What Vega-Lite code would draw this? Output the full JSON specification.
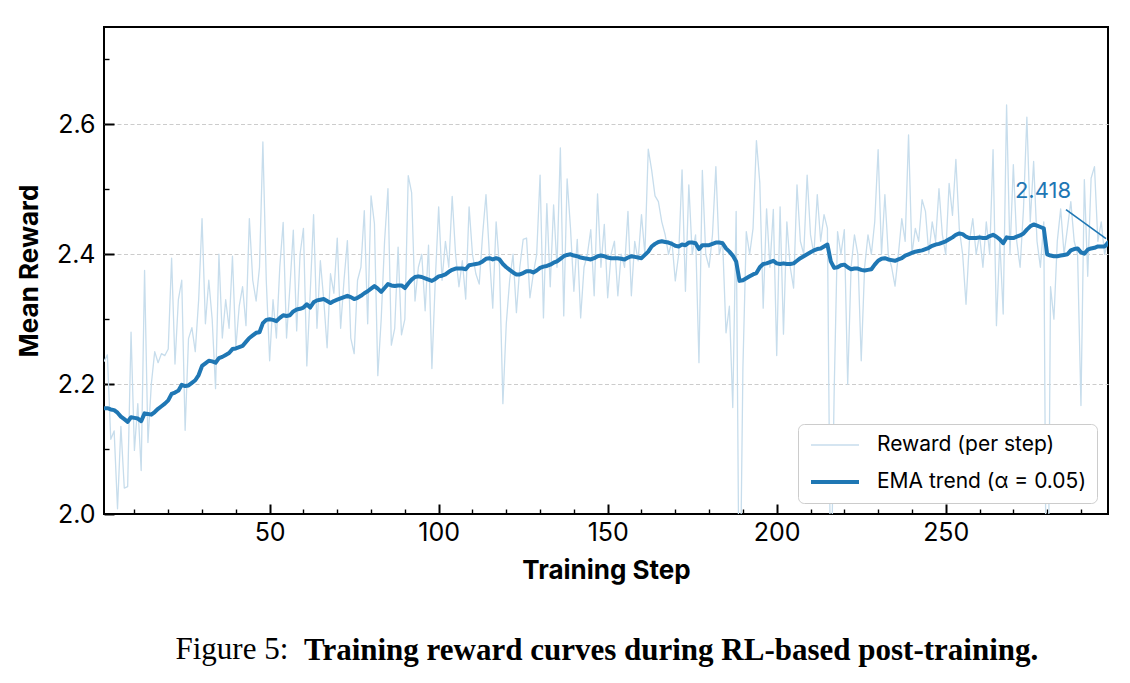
{
  "$schema": "https://vega.github.io/schema/vega-lite/v6.json",
  "width": 1004,
  "height": 487,
  "autosize": {"type": "none"},
  "padding": {"left": 104, "top": 27, "right": 22, "bottom": 169},
  "background": "white",
  "config": {
    "view": {"stroke": "#000000", "strokeWidth": 2},
    "font": "Inter"
  },
  "title": {
    "text": "Training reward curves during RL-based post-training.",
    "orient": "bottom",
    "anchor": "start",
    "frame": "group",
    "dx": 200,
    "offset": -29,
    "font": "Liberation Serif",
    "fontSize": 31,
    "fontWeight": "bold",
    "color": "#000000"
  },
  "resolve": {"axis": {"x": "independent"}},
  "data": {
    "values": [
      {"step":1,"reward":2.235,"ema":2.163},{"step":2,"reward":2.245,"ema":2.163},{"step":3,"reward":2.115,"ema":2.161},{"step":4,"reward":2.128,"ema":2.160},{"step":5,"reward":2.008,"ema":2.156},
      {"step":6,"reward":2.135,"ema":2.150},{"step":7,"reward":2.040,"ema":2.146},{"step":8,"reward":2.042,"ema":2.142},{"step":9,"reward":2.280,"ema":2.149},{"step":10,"reward":2.098,"ema":2.148},
      {"step":11,"reward":2.170,"ema":2.147},{"step":12,"reward":2.067,"ema":2.143},{"step":13,"reward":2.375,"ema":2.155},{"step":14,"reward":2.110,"ema":2.154},{"step":15,"reward":2.200,"ema":2.153},
      {"step":16,"reward":2.250,"ema":2.157},{"step":17,"reward":2.233,"ema":2.162},{"step":18,"reward":2.247,"ema":2.166},{"step":19,"reward":2.244,"ema":2.170},{"step":20,"reward":2.254,"ema":2.175},
      {"step":21,"reward":2.394,"ema":2.185},{"step":22,"reward":2.231,"ema":2.187},{"step":23,"reward":2.330,"ema":2.190},{"step":24,"reward":2.360,"ema":2.199},{"step":25,"reward":2.129,"ema":2.197},
      {"step":26,"reward":2.270,"ema":2.198},{"step":27,"reward":2.287,"ema":2.202},{"step":28,"reward":2.250,"ema":2.206},{"step":29,"reward":2.330,"ema":2.214},{"step":30,"reward":2.455,"ema":2.228},
      {"step":31,"reward":2.293,"ema":2.232},{"step":32,"reward":2.360,"ema":2.236},{"step":33,"reward":2.300,"ema":2.235},{"step":34,"reward":2.193,"ema":2.233},{"step":35,"reward":2.400,"ema":2.240},
      {"step":36,"reward":2.271,"ema":2.242},{"step":37,"reward":2.330,"ema":2.245},{"step":38,"reward":2.286,"ema":2.248},{"step":39,"reward":2.397,"ema":2.254},{"step":40,"reward":2.256,"ema":2.255},
      {"step":41,"reward":2.320,"ema":2.257},{"step":42,"reward":2.350,"ema":2.259},{"step":43,"reward":2.290,"ema":2.265},{"step":44,"reward":2.455,"ema":2.271},{"step":45,"reward":2.360,"ema":2.275},
      {"step":46,"reward":2.328,"ema":2.279},{"step":47,"reward":2.380,"ema":2.280},{"step":48,"reward":2.573,"ema":2.294},{"step":49,"reward":2.360,"ema":2.299},{"step":50,"reward":2.236,"ema":2.300},
      {"step":51,"reward":2.330,"ema":2.299},{"step":52,"reward":2.271,"ema":2.297},{"step":53,"reward":2.380,"ema":2.302},{"step":54,"reward":2.449,"ema":2.306},{"step":55,"reward":2.271,"ema":2.305},
      {"step":56,"reward":2.350,"ema":2.306},{"step":57,"reward":2.437,"ema":2.312},{"step":58,"reward":2.282,"ema":2.315},{"step":59,"reward":2.400,"ema":2.316},{"step":60,"reward":2.440,"ema":2.318},
      {"step":61,"reward":2.228,"ema":2.323},{"step":62,"reward":2.340,"ema":2.318},{"step":63,"reward":2.461,"ema":2.326},{"step":64,"reward":2.286,"ema":2.329},{"step":65,"reward":2.390,"ema":2.330},
      {"step":66,"reward":2.330,"ema":2.331},{"step":67,"reward":2.256,"ema":2.328},{"step":68,"reward":2.370,"ema":2.325},{"step":69,"reward":2.340,"ema":2.328},{"step":70,"reward":2.425,"ema":2.330},
      {"step":71,"reward":2.286,"ema":2.332},{"step":72,"reward":2.360,"ema":2.334},{"step":73,"reward":2.421,"ema":2.336},{"step":74,"reward":2.271,"ema":2.334},{"step":75,"reward":2.247,"ema":2.331},
      {"step":76,"reward":2.360,"ema":2.333},{"step":77,"reward":2.380,"ema":2.336},{"step":78,"reward":2.467,"ema":2.340},{"step":79,"reward":2.293,"ema":2.343},{"step":80,"reward":2.490,"ema":2.347},
      {"step":81,"reward":2.447,"ema":2.351},{"step":82,"reward":2.213,"ema":2.347},{"step":83,"reward":2.300,"ema":2.342},{"step":84,"reward":2.420,"ema":2.348},{"step":85,"reward":2.501,"ema":2.354},
      {"step":86,"reward":2.260,"ema":2.352},{"step":87,"reward":2.286,"ema":2.351},{"step":88,"reward":2.411,"ema":2.352},{"step":89,"reward":2.276,"ema":2.352},{"step":90,"reward":2.300,"ema":2.348},
      {"step":91,"reward":2.521,"ema":2.355},{"step":92,"reward":2.495,"ema":2.361},{"step":93,"reward":2.328,"ema":2.365},{"step":94,"reward":2.380,"ema":2.366},{"step":95,"reward":2.400,"ema":2.365},
      {"step":96,"reward":2.313,"ema":2.363},{"step":97,"reward":2.414,"ema":2.361},{"step":98,"reward":2.224,"ema":2.359},{"step":99,"reward":2.360,"ema":2.362},{"step":100,"reward":2.473,"ema":2.366},
      {"step":101,"reward":2.360,"ema":2.367},{"step":102,"reward":2.420,"ema":2.369},{"step":103,"reward":2.380,"ema":2.373},{"step":104,"reward":2.489,"ema":2.376},{"step":105,"reward":2.400,"ema":2.378},
      {"step":106,"reward":2.350,"ema":2.378},{"step":107,"reward":2.390,"ema":2.378},{"step":108,"reward":2.331,"ema":2.377},{"step":109,"reward":2.473,"ema":2.383},{"step":110,"reward":2.400,"ema":2.384},
      {"step":111,"reward":2.370,"ema":2.385},{"step":112,"reward":2.354,"ema":2.386},{"step":113,"reward":2.430,"ema":2.389},{"step":114,"reward":2.492,"ema":2.393},{"step":115,"reward":2.400,"ema":2.394},
      {"step":116,"reward":2.317,"ema":2.392},{"step":117,"reward":2.450,"ema":2.394},{"step":118,"reward":2.380,"ema":2.392},{"step":119,"reward":2.170,"ema":2.385},{"step":120,"reward":2.293,"ema":2.380},
      {"step":121,"reward":2.360,"ema":2.376},{"step":122,"reward":2.400,"ema":2.372},{"step":123,"reward":2.310,"ema":2.369},{"step":124,"reward":2.380,"ema":2.369},{"step":125,"reward":2.423,"ema":2.371},
      {"step":126,"reward":2.425,"ema":2.374},{"step":127,"reward":2.333,"ema":2.374},{"step":128,"reward":2.370,"ema":2.372},{"step":129,"reward":2.400,"ema":2.375},{"step":130,"reward":2.522,"ema":2.379},
      {"step":131,"reward":2.302,"ema":2.381},{"step":132,"reward":2.478,"ema":2.382},{"step":133,"reward":2.350,"ema":2.384},{"step":134,"reward":2.476,"ema":2.387},{"step":135,"reward":2.380,"ema":2.389},
      {"step":136,"reward":2.564,"ema":2.393},{"step":137,"reward":2.305,"ema":2.397},{"step":138,"reward":2.516,"ema":2.399},{"step":139,"reward":2.440,"ema":2.400},{"step":140,"reward":2.343,"ema":2.398},
      {"step":141,"reward":2.423,"ema":2.397},{"step":142,"reward":2.302,"ema":2.395},{"step":143,"reward":2.380,"ema":2.394},{"step":144,"reward":2.400,"ema":2.393},{"step":145,"reward":2.438,"ema":2.392},
      {"step":146,"reward":2.336,"ema":2.394},{"step":147,"reward":2.493,"ema":2.397},{"step":148,"reward":2.380,"ema":2.398},{"step":149,"reward":2.446,"ema":2.397},{"step":150,"reward":2.333,"ema":2.395},
      {"step":151,"reward":2.400,"ema":2.394},{"step":152,"reward":2.420,"ema":2.394},{"step":153,"reward":2.336,"ema":2.394},{"step":154,"reward":2.400,"ema":2.393},{"step":155,"reward":2.380,"ema":2.392},
      {"step":156,"reward":2.466,"ema":2.395},{"step":157,"reward":2.336,"ema":2.397},{"step":158,"reward":2.420,"ema":2.396},{"step":159,"reward":2.390,"ema":2.395},{"step":160,"reward":2.461,"ema":2.394},
      {"step":161,"reward":2.400,"ema":2.399},{"step":162,"reward":2.562,"ema":2.404},{"step":163,"reward":2.530,"ema":2.412},{"step":164,"reward":2.490,"ema":2.416},{"step":165,"reward":2.481,"ema":2.419},
      {"step":166,"reward":2.450,"ema":2.420},{"step":167,"reward":2.430,"ema":2.419},{"step":168,"reward":2.400,"ema":2.418},{"step":169,"reward":2.420,"ema":2.416},{"step":170,"reward":2.359,"ema":2.413},
      {"step":171,"reward":2.400,"ema":2.412},{"step":172,"reward":2.530,"ema":2.415},{"step":173,"reward":2.343,"ema":2.414},{"step":174,"reward":2.507,"ema":2.418},{"step":175,"reward":2.400,"ema":2.418},
      {"step":176,"reward":2.430,"ema":2.417},{"step":177,"reward":2.233,"ema":2.408},{"step":178,"reward":2.529,"ema":2.414},{"step":179,"reward":2.400,"ema":2.414},{"step":180,"reward":2.380,"ema":2.414},
      {"step":181,"reward":2.430,"ema":2.416},{"step":182,"reward":2.535,"ema":2.418},{"step":183,"reward":2.400,"ema":2.418},{"step":184,"reward":2.420,"ema":2.417},{"step":185,"reward":2.279,"ema":2.409},
      {"step":186,"reward":2.320,"ema":2.404},{"step":187,"reward":2.164,"ema":2.398},{"step":188,"reward":2.466,"ema":2.389},{"step":189,"reward":1.780,"ema":2.359},{"step":190,"reward":2.225,"ema":2.360},
      {"step":191,"reward":2.435,"ema":2.363},{"step":192,"reward":2.400,"ema":2.366},{"step":193,"reward":2.440,"ema":2.369},{"step":194,"reward":2.575,"ema":2.371},{"step":195,"reward":2.510,"ema":2.380},
      {"step":196,"reward":2.317,"ema":2.385},{"step":197,"reward":2.470,"ema":2.386},{"step":198,"reward":2.380,"ema":2.388},{"step":199,"reward":2.469,"ema":2.390},{"step":200,"reward":2.244,"ema":2.386},
      {"step":201,"reward":2.473,"ema":2.385},{"step":202,"reward":2.277,"ema":2.386},{"step":203,"reward":2.450,"ema":2.385},{"step":204,"reward":2.380,"ema":2.385},{"step":205,"reward":2.348,"ema":2.386},
      {"step":206,"reward":2.507,"ema":2.390},{"step":207,"reward":2.420,"ema":2.394},{"step":208,"reward":2.400,"ema":2.397},{"step":209,"reward":2.522,"ema":2.400},{"step":210,"reward":2.430,"ema":2.403},
      {"step":211,"reward":2.400,"ema":2.406},{"step":212,"reward":2.492,"ema":2.408},{"step":213,"reward":2.420,"ema":2.409},{"step":214,"reward":2.461,"ema":2.412},{"step":215,"reward":2.440,"ema":2.415},
      {"step":216,"reward":1.850,"ema":2.389},{"step":217,"reward":2.190,"ema":2.379},{"step":218,"reward":2.435,"ema":2.380},{"step":219,"reward":2.400,"ema":2.383},{"step":220,"reward":2.438,"ema":2.384},
      {"step":221,"reward":2.200,"ema":2.380},{"step":222,"reward":2.380,"ema":2.377},{"step":223,"reward":2.430,"ema":2.378},{"step":224,"reward":2.400,"ema":2.378},{"step":225,"reward":2.236,"ema":2.376},
      {"step":226,"reward":2.380,"ema":2.375},{"step":227,"reward":2.430,"ema":2.376},{"step":228,"reward":2.400,"ema":2.377},{"step":229,"reward":2.450,"ema":2.384},{"step":230,"reward":2.561,"ema":2.390},
      {"step":231,"reward":2.400,"ema":2.393},{"step":232,"reward":2.492,"ema":2.394},{"step":233,"reward":2.400,"ema":2.392},{"step":234,"reward":2.380,"ema":2.391},{"step":235,"reward":2.351,"ema":2.390},
      {"step":236,"reward":2.400,"ema":2.392},{"step":237,"reward":2.455,"ema":2.394},{"step":238,"reward":2.420,"ema":2.398},{"step":239,"reward":2.584,"ema":2.400},{"step":240,"reward":2.400,"ema":2.402},
      {"step":241,"reward":2.440,"ema":2.404},{"step":242,"reward":2.420,"ema":2.405},{"step":243,"reward":2.484,"ema":2.406},{"step":244,"reward":2.466,"ema":2.408},{"step":245,"reward":2.400,"ema":2.410},
      {"step":246,"reward":2.450,"ema":2.413},{"step":247,"reward":2.420,"ema":2.415},{"step":248,"reward":2.501,"ema":2.416},{"step":249,"reward":2.430,"ema":2.418},{"step":250,"reward":2.400,"ema":2.420},
      {"step":251,"reward":2.509,"ema":2.423},{"step":252,"reward":2.460,"ema":2.426},{"step":253,"reward":2.546,"ema":2.430},{"step":254,"reward":2.440,"ema":2.432},{"step":255,"reward":2.400,"ema":2.431},
      {"step":256,"reward":2.323,"ema":2.427},{"step":257,"reward":2.420,"ema":2.425},{"step":258,"reward":2.455,"ema":2.425},{"step":259,"reward":2.400,"ema":2.425},{"step":260,"reward":2.430,"ema":2.426},
      {"step":261,"reward":2.380,"ema":2.425},{"step":262,"reward":2.450,"ema":2.425},{"step":263,"reward":2.400,"ema":2.428},{"step":264,"reward":2.561,"ema":2.430},{"step":265,"reward":2.290,"ema":2.427},
      {"step":266,"reward":2.420,"ema":2.423},{"step":267,"reward":2.308,"ema":2.417},{"step":268,"reward":2.630,"ema":2.426},{"step":269,"reward":2.400,"ema":2.425},{"step":270,"reward":2.538,"ema":2.425},
      {"step":271,"reward":2.420,"ema":2.427},{"step":272,"reward":2.380,"ema":2.429},{"step":273,"reward":2.470,"ema":2.432},{"step":274,"reward":2.611,"ema":2.438},{"step":275,"reward":2.450,"ema":2.443},
      {"step":276,"reward":2.543,"ema":2.446},{"step":277,"reward":2.420,"ema":2.444},{"step":278,"reward":2.380,"ema":2.442},{"step":279,"reward":2.450,"ema":2.440},{"step":280,"reward":1.640,"ema":2.400},
      {"step":281,"reward":2.350,"ema":2.398},{"step":282,"reward":2.300,"ema":2.397},{"step":283,"reward":2.420,"ema":2.397},{"step":284,"reward":2.470,"ema":2.398},{"step":285,"reward":2.400,"ema":2.399},
      {"step":286,"reward":2.440,"ema":2.400},{"step":287,"reward":2.481,"ema":2.406},{"step":288,"reward":2.420,"ema":2.408},{"step":289,"reward":2.400,"ema":2.409},{"step":290,"reward":2.167,"ema":2.403},
      {"step":291,"reward":2.515,"ema":2.401},{"step":292,"reward":2.366,"ema":2.407},{"step":293,"reward":2.517,"ema":2.409},{"step":294,"reward":2.535,"ema":2.410},{"step":295,"reward":2.420,"ema":2.412},
      {"step":296,"reward":2.450,"ema":2.412},{"step":297,"reward":2.400,"ema":2.412},{"step":298,"reward":2.420,"ema":2.418}
    ]
  },
  "layer": [
    {
      "transform": [{"fold": ["reward", "ema"], "as": ["series", "value"]}],
      "mark": {"type": "line", "clip": true, "strokeJoin": "round", "strokeCap": "round"},
      "encoding": {
        "x": {
          "field": "step",
          "type": "quantitative",
          "scale": {"domain": [1, 298], "nice": false, "zero": false},
          "axis": {
            "orient": "bottom",
            "values": [50, 100, 150, 200, 250],
            "title": "Training Step",
            "titleFont": "Inter",
            "titleFontSize": 26,
            "titleFontWeight": "bold",
            "titleColor": "#000000",
            "titlePadding": 12,
            "labelFont": "Inter",
            "labelFontSize": 25,
            "labelColor": "#000000",
            "labelPadding": 16,
            "labelFlush": false,
            "labelOverlap": false,
            "domain": false,
            "grid": false,
            "tickColor": "#000000",
            "tickSize": -10,
            "tickWidth": 2
          }
        },
        "y": {
          "field": "value",
          "type": "quantitative",
          "scale": {"domain": [2.0, 2.75], "nice": false, "zero": false},
          "axis": {
            "values": [2.0, 2.05, 2.1, 2.15, 2.2, 2.25, 2.3, 2.35, 2.4, 2.45, 2.5, 2.55, 2.6, 2.65, 2.7],
            "format": ".1f",
            "title": "Mean Reward",
            "titleFont": "Inter",
            "titleFontSize": 26,
            "titleFontWeight": "bold",
            "titleColor": "#000000",
            "titlePadding": 14,
            "labelExpr": "round(datum.value * 100) % 20 === 0 ? datum.label : ''",
            "labelFont": "Inter",
            "labelFontSize": 25,
            "labelColor": "#000000",
            "labelPadding": 19,
            "labelFlush": false,
            "labelOverlap": false,
            "domain": false,
            "grid": true,
            "gridColor": "#cccccc",
            "gridDash": [4, 2.5],
            "gridWidth": 1,
            "gridOpacity": {"condition": {"test": "round(datum.value * 100) % 20 === 0 && datum.value > 2.01", "value": 1}, "value": 0},
            "tickColor": "#000000",
            "tickSize": {"condition": {"test": "round(datum.value * 100) % 20 === 0", "value": -10}, "value": -5},
            "tickWidth": {"condition": {"test": "round(datum.value * 100) % 20 === 0", "value": 2}, "value": 1.4}
          }
        },
        "color": {
          "field": "series",
          "type": "nominal",
          "scale": {"domain": ["reward", "ema"], "range": ["#c7ddec", "#1f77b4"]},
          "legend": {
            "title": null,
            "orient": "bottom-right",
            "offset": 11,
            "symbolType": "stroke",
            "symbolSize": 2304,
            "clipHeight": 20,
            "rowPadding": 16,
            "padding": 11,
            "labelOffset": 16,
            "labelLimit": 400,
            "labelFont": "Inter",
            "labelFontSize": 21,
            "labelColor": "#000000",
            "strokeColor": "#cccccc",
            "fillColor": "#ffffff",
            "cornerRadius": 6,
            "labelExpr": "datum.value === 'ema' ? 'EMA trend (α = 0.05)' : 'Reward (per step)'"
          }
        },
        "strokeWidth": {
          "field": "series",
          "type": "nominal",
          "scale": {"domain": ["reward", "ema"], "range": [1.3, 4]},
          "legend": {
            "title": null,
            "orient": "bottom-right",
            "offset": 11,
            "symbolType": "stroke",
            "symbolSize": 2304,
            "clipHeight": 20,
            "rowPadding": 16,
            "padding": 11,
            "labelOffset": 16,
            "labelLimit": 400,
            "labelFont": "Inter",
            "labelFontSize": 21,
            "labelColor": "#000000",
            "strokeColor": "#cccccc",
            "fillColor": "#ffffff",
            "cornerRadius": 6,
            "labelExpr": "datum.value === 'ema' ? 'EMA trend (α = 0.05)' : 'Reward (per step)'"
          }
        }
      }
    },
    {
      "transform": [{"filter": "datum.step === 298"}],
      "mark": {"type": "rule", "color": "#1f77b4", "strokeWidth": 1.6, "xOffset": -42, "yOffset": -33, "x2Offset": -2, "y2Offset": -4},
      "encoding": {
        "x": {
          "field": "step",
          "type": "quantitative",
          "axis": {
            "orient": "bottom",
            "values": [10, 20, 30, 40, 60, 70, 80, 90, 110, 120, 130, 140, 160, 170, 180, 190, 210, 220, 230, 240, 260, 270, 280, 290],
            "labels": false,
            "title": "Figure 5:",
            "titleFont": "Liberation Serif",
            "titleFontSize": 31,
            "titleFontWeight": "normal",
            "titleColor": "#000000",
            "titleAnchor": "start",
            "titleAlign": "left",
            "titleX": 71,
            "titlePadding": 120,
            "domain": false,
            "grid": false,
            "tickColor": "#000000",
            "tickSize": -5,
            "tickWidth": 1.4
          }
        },
        "x2": {"field": "step"},
        "y": {"field": "ema", "type": "quantitative"},
        "y2": {"field": "ema"}
      }
    },
    {
      "transform": [{"filter": "datum.step === 298"}],
      "mark": {"type": "text", "color": "#1f77b4", "font": "Inter", "fontSize": 22, "dx": -65, "dy": -52, "align": "center", "baseline": "middle"},
      "encoding": {
        "x": {"field": "step", "type": "quantitative", "axis": null},
        "y": {"field": "ema", "type": "quantitative"},
        "text": {"field": "ema", "type": "quantitative", "format": ".3f"}
      }
    }
  ]
}
